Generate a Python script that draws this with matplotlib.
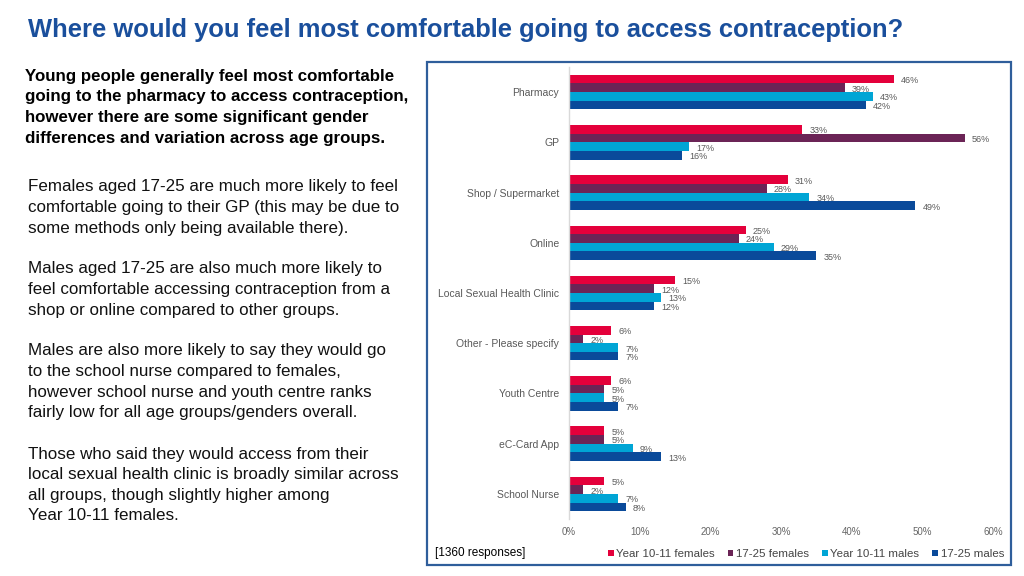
import matplotlib
matplotlib.use("Agg")
import matplotlib.pyplot as plt
from matplotlib.patches import Patch, Rectangle
import numpy as np

plt.rcParams['font.family'] = ['Liberation Sans', 'DejaVu Sans']

categories = ["Pharmacy", "GP", "Shop / Supermarket", "Online", "Local Sexual Health Clinic",
              "Other - Please specify", "Youth Centre", "eC-Card App", "School Nurse"]
series_names = ["Year 10-11 females", "17-25 females", "Year 10-11 males", "17-25 males"]
y1011_females = [46, 33, 31, 25, 15, 6, 6, 5, 5]
f1725_females = [39, 56, 28, 24, 12, 2, 5, 5, 2]
y1011_males = [43, 17, 34, 29, 13, 7, 5, 9, 7]
m1725_males = [42, 16, 49, 35, 12, 7, 7, 13, 8]
colors = ["#E4003B", "#6B2456", "#00A5D5", "#0A4A9A"]
xticks = [0, 10, 20, 30, 40, 50, 60]

title = "Where would you feel most comfortable going to access contraception?"
bold_para = ["Young people generally feel most comfortable",
             "going to the pharmacy to access contraception,",
             "however there are some significant gender",
             "differences and variation across age groups."]
paras = [
    ["Females aged 17-25 are much more likely to feel",
     "comfortable going to their GP (this may be due to",
     "some methods only being available there)."],
    ["Males aged 17-25 are also much more likely to",
     "feel comfortable accessing contraception from a",
     "shop or online compared to other groups."],
    ["Males are also more likely to say they would go",
     "to the school nurse compared to females,",
     "however school nurse and youth centre ranks",
     "fairly low for all age groups/genders overall."],
    ["Those who said they would access from their",
     "local sexual health clinic is broadly similar across",
     "all groups, though slightly higher among",
     "Year 10-11 females."],
]
note = "[1360 responses]"

W, H = 1024, 576
fig = plt.figure(figsize=(W / 100, H / 100), dpi=100)

def fx(px):
    return px / W

def fy(py):
    return 1 - py / H

# Title
fig.text(fx(28), fy(30), title, fontsize=18.4, fontweight='bold', color="#1A4F9C",
         ha='left', va='center')

# Left text
for i, line in enumerate(bold_para):
    fig.text(fx(25), fy(76 + i * 20.7), line, fontsize=12.2, fontweight='bold',
             color='black', ha='left', va='center')
para_starts = [187, 269, 351, 454]
for start, lines in zip(para_starts, paras):
    for i, line in enumerate(lines):
        fig.text(fx(28), fy(start + i * 20.6), line, fontsize=12.25, color='#111111',
                 ha='left', va='center')

# Border box around chart
fig.patches.append(Rectangle((fx(427), fy(565)), fx(1011) - fx(427), fy(62) - fy(565),
                             transform=fig.transFigure, fill=False,
                             edgecolor="#2F5E9B", linewidth=1.6))

# Chart axes
ax = fig.add_axes([fx(569), fy(519), fx(993) - fx(569), fy(67) - fy(519)])
series = [y1011_females, f1725_females, y1011_males, m1725_males]
n = len(categories)
y = np.arange(n)
bh = 0.172
offsets = [-1.5, -0.5, 0.5, 1.5]
for s, (vals, col, off) in enumerate(zip(series, colors, offsets)):
    ax.barh(y + off * bh, vals, height=bh, color=col, label=series_names[s])
    for yi, v in zip(y, vals):
        ax.text(v + 1.0, yi + off * bh + 0.03, f"{v}%", fontsize=6.5, color='#5a5a5a',
                ha='left', va='center')

ax.set_ylim(n - 0.5, -0.5)
ax.set_xlim(0, 60)
ax.set_yticks(y)
ax.set_yticklabels(categories, fontsize=7.5, color='#595959')
ax.set_xticks(xticks)
ax.set_xticklabels([f"{t}%" for t in xticks], fontsize=7, color='#666666')
ax.tick_params(axis='both', length=0)
ax.tick_params(axis='y', pad=7)
ax.tick_params(axis='x', pad=6)
for sp in ['top', 'right', 'bottom']:
    ax.spines[sp].set_visible(False)
ax.spines['left'].set_color('#D9D9D9')
ax.spines['left'].set_linewidth(1)

# Note
fig.text(fx(435), fy(553), note, fontsize=8.5, color='black', ha='left', va='center')

# Legend
handles = [Patch(facecolor=c, edgecolor='none') for c in colors]
fig.legend(handles, series_names, loc='center right', bbox_to_anchor=(fx(1004), fy(554)),
           ncol=4, frameon=False, fontsize=8.25, handlelength=0.5, handleheight=0.5,
           handletextpad=0.25, columnspacing=1.1, borderaxespad=0, borderpad=0,
           labelcolor='#444444')

fig.savefig("out.png", dpi=100)
